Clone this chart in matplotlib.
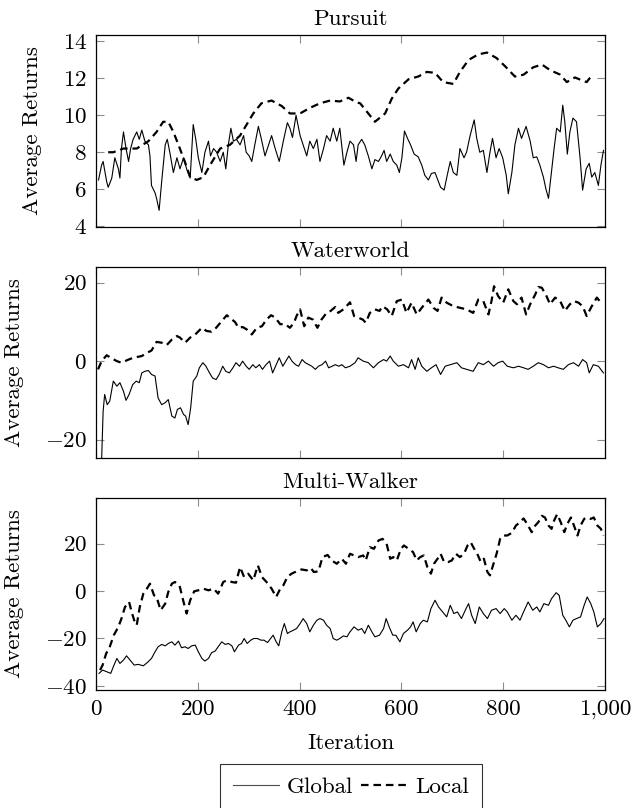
import matplotlib
matplotlib.use("Agg")
import matplotlib.pyplot as plt
from matplotlib.lines import Line2D

plt.rcParams["font.family"] = ["cmr10", "DejaVu Serif"]
plt.rcParams["mathtext.fontset"] = "cm"
plt.rcParams["axes.formatter.use_mathtext"] = True
plt.rcParams["font.size"] = 16.6

# Pursuit
pursuit_global_it = [5, 11, 14, 21, 24, 31, 37, 44, 47, 50, 54, 59, 64, 68, 73, 80, 85, 90, 96, 103,
                     106, 109, 116, 119, 124, 129, 136, 140, 145, 152, 159, 165, 172, 178, 185, 191, 196, 201, 208, 214,
                     221, 225, 231, 237, 244, 250, 255, 260, 265, 270, 276, 283, 290, 295, 301, 306, 312, 319, 325, 332,
                     339, 345, 352, 360, 368, 376, 381, 386, 393, 401, 407, 414, 420, 427, 434, 440, 447, 453, 460, 466,
                     473, 479, 487, 493, 499, 506, 511, 515, 522, 528, 535, 542, 548, 555, 561, 566, 571, 578, 584, 591,
                     596, 601, 606, 612, 618, 625, 633, 640, 646, 653, 659, 666, 673, 677, 684, 690, 696, 702, 709, 715,
                     723, 728, 735, 743, 748, 754, 761, 768, 774, 779, 786, 792, 799, 806, 810, 817, 823, 830, 836, 845,
                     853, 859, 866, 872, 879, 884, 889, 894, 900, 905, 912, 917, 921, 926, 931, 937, 944, 951, 956, 963,
                     969, 974, 980, 987, 992, 997]
pursuit_global = [6.5, 7.3, 7.5, 6.4, 6.1, 6.6, 7.7, 7.1, 6.6, 8.2, 9.1, 8.2, 7.5, 8.2, 8.7, 9.1, 8.7, 9.2, 8.6, 8.4,
                  7.8, 6.2, 5.8, 5.5, 4.85, 6.4, 8.4, 8.7, 8.0, 6.9, 7.7, 7.1, 7.7, 7.1, 6.6, 9.5, 8.7, 7.7, 6.9, 8.0,
                  8.6, 7.8, 8.2, 8.0, 7.5, 8.0, 7.1, 8.4, 9.3, 8.6, 8.7, 8.4, 8.9, 8.0, 7.8, 7.5, 8.4, 9.4, 8.7, 7.8,
                  8.4, 8.9, 8.2, 7.5, 8.6, 9.6, 9.3, 8.8, 10.0, 8.9, 8.4, 7.8, 8.6, 8.2, 8.7, 7.5, 8.2, 8.9, 8.6, 9.3,
                  8.6, 9.3, 7.3, 8.0, 8.6, 8.4, 7.5, 8.4, 8.7, 8.4, 7.8, 7.1, 7.6, 7.5, 7.8, 8.1, 7.5, 7.9, 7.5, 7.3,
                  6.9, 7.7, 9.15, 8.75, 8.4, 7.9, 7.75, 7.3, 6.75, 6.5, 6.85, 6.9, 6.4, 6.1, 5.95, 6.75, 7.5, 6.9, 6.75, 8.2,
                  7.7, 8.0, 8.9, 9.75, 8.75, 8.0, 8.1, 6.9, 8.0, 8.75, 7.7, 8.2, 7.7, 6.75, 5.75, 6.9, 8.4, 9.3, 8.75, 9.4,
                  8.6, 7.7, 7.75, 7.3, 6.65, 6.0, 5.5, 6.75, 8.2, 9.3, 9.1, 10.55, 9.65, 7.9, 9.1, 9.85, 9.65, 7.7, 5.95, 7.1,
                  7.4, 6.65, 6.9, 6.2, 7.3, 8.1]
pursuit_local_it = [24, 34, 54, 80, 103, 119, 132, 142, 152, 162, 175, 185, 198, 211, 224, 244, 263, 283, 296, 309,
                    325, 345, 365, 381, 401, 420, 440, 460, 479, 496, 512, 519, 535, 548, 568, 581, 594, 614, 633, 650,
                    666, 682, 702, 715, 732, 751, 768, 787, 804, 823, 840, 859, 876, 892, 912, 925, 941, 954, 964, 971]
pursuit_local = [8.0, 8.0, 8.2, 8.2, 8.6, 9.1, 9.65, 9.65, 9.1, 8.4, 7.45, 6.65, 6.5, 6.65, 7.3, 8.2, 8.4, 8.9, 9.5, 10.1,
                 10.65, 10.8, 10.5, 10.1, 10.1, 10.4, 10.65, 10.8, 10.75, 10.95, 10.7, 10.65, 10.1, 9.65, 10.1, 10.9, 11.45, 11.95, 12.1, 12.35,
                 12.3, 11.8, 11.7, 12.35, 13.0, 13.3, 13.4, 13.1, 12.65, 12.1, 12.2, 12.6, 12.75, 12.45, 12.2, 11.8, 12.05, 11.9, 11.8, 12.05]

# Waterworld
water_global_it = [3, 8, 14, 17, 22, 27, 34, 41, 47, 54, 59, 65, 72, 79, 85, 90, 96, 103, 109, 116,
                   122, 129, 136, 142, 149, 155, 160, 166, 172, 176, 181, 186, 191, 198, 203, 210, 216, 223, 229, 236,
                   242, 249, 255, 262, 269, 275, 282, 288, 295, 301, 308, 314, 321, 327, 334, 341, 347, 354, 360, 367,
                   373, 379, 385, 392, 398, 405, 411, 418, 424, 431, 437, 444, 451, 457, 464, 470, 477, 483, 490, 499,
                   509, 515, 525, 535, 545, 555, 565, 571, 578, 584, 594, 604, 614, 620, 627, 633, 640, 650, 659, 668,
                   677, 686, 696, 709, 718, 728, 741, 751, 761, 771, 781, 790, 799, 808, 820, 830, 840, 849, 859, 869,
                   879, 889, 899, 908, 918, 928, 938, 948, 956, 964, 969, 977, 987, 997]
water_global = [-45.0, -38.0, -12.8, -8.5, -11.1, -10.2, -5.1, -6.4, -5.5, -7.7, -10.0, -8.5, -6.0, -5.1, -5.5, -3.0, -2.6, -2.4, -3.4, -3.8,
                -9.4, -11.1, -10.6, -9.8, -14.0, -14.5, -12.3, -11.9, -13.6, -14.0, -16.2, -11.9, -5.1, -3.8, -1.7, -0.4, -1.3, -3.0, -4.3, -4.7,
                -3.4, -1.3, -2.6, -3.0, -1.7, -0.4, -1.3, 0.0, -1.3, -2.1, -0.9, -1.7, -0.9, -2.1, -0.9, 0.0, -3.0, -0.9, 0.85, -1.3,
                0.0, 1.3, 0.0, -0.9, -1.3, 0.4, -0.4, -0.9, -1.3, -2.1, -1.3, -0.9, 0.0, -1.7, -1.3, -0.9, -1.3, -0.9, -1.7, -1.3,
                -0.4, 0.85, 0.0, -0.4, -1.7, -0.4, 0.4, 0.0, 1.3, 0.0, -1.3, -0.9, -1.7, 0.4, -2.1, 0.85, -1.3, -2.6, -1.7, -0.9,
                -3.4, -1.3, -0.9, -0.4, -1.7, -2.1, -2.6, -0.4, -0.9, 0.0, -1.3, -0.4, 0.0, -1.3, -1.7, -1.3, -1.7, -2.1, -1.3, -0.4,
                -0.9, -1.7, -1.3, -1.7, -2.1, -0.9, -0.4, -1.3, 0.4, -0.4, -3.0, -0.9, -1.3, -3.0]
water_local_it = [4, 11, 21, 29, 41, 50, 64, 73, 90, 100, 109, 119, 129, 139, 149, 159, 165, 175, 185, 195,
                  208, 217, 227, 236, 247, 257, 267, 273, 280, 288, 296, 306, 316, 326, 335, 344, 352, 362, 371, 381,
                  389, 394, 401, 409, 417, 426, 435, 443, 453, 461, 470, 476, 486, 492, 499, 507, 515, 524, 530, 538,
                  548, 557, 563, 572, 581, 591, 601, 610, 620, 630, 640, 653, 663, 671, 679, 689, 702, 715, 728, 741,
                  751, 761, 771, 777, 782, 790, 800, 810, 820, 827, 836, 845, 853, 863, 869, 876, 885, 892, 902, 912,
                  921, 931, 939, 948, 956, 964, 974, 984, 992]
water_local = [-2.1, 0.0, 1.5, 0.85, 0.0, -0.4, 0.4, 0.85, 1.3, 2.1, 2.7, 4.9, 4.7, 4.1, 5.5, 6.4, 6.0, 4.7, 6.0, 6.8,
               8.5, 7.7, 7.5, 8.5, 10.2, 11.7, 10.6, 10.0, 8.5, 8.7, 8.1, 6.8, 8.5, 8.9, 10.6, 11.7, 11.1, 9.4, 9.5, 8.5,
               9.8, 11.5, 13.2, 8.9, 11.1, 10.6, 8.5, 10.6, 12.3, 12.8, 13.8, 12.3, 13.2, 14.0, 15.0, 11.5, 11.1, 10.6, 9.8, 12.3,
               13.2, 12.8, 14.0, 13.2, 11.5, 15.3, 15.7, 12.3, 14.9, 11.9, 13.6, 15.7, 13.6, 12.8, 16.2, 14.9, 14.0, 13.6, 13.2, 12.3,
               15.7, 15.3, 11.9, 15.3, 19.1, 16.6, 14.9, 18.3, 15.3, 14.5, 16.2, 11.9, 14.5, 17.0, 18.9, 18.7, 16.6, 14.5, 16.2, 15.3,
               12.8, 14.5, 15.3, 14.9, 14.0, 11.5, 14.0, 16.2, 14.9]

# Multi-Walker
walker_global_it = [6, 13, 21, 29, 34, 41, 47, 54, 60, 67, 75, 83, 93, 101, 109, 116, 122, 129, 136, 142,
                    149, 155, 162, 168, 175, 181, 188, 195, 201, 208, 214, 221, 227, 234, 240, 247, 254, 260, 267, 272,
                    280, 286, 291, 297, 304, 310, 317, 324, 330, 337, 343, 348, 354, 359, 365, 370, 376, 381, 388, 394,
                    401, 407, 414, 420, 427, 434, 440, 447, 453, 460, 466, 473, 479, 486, 493, 499, 507, 515, 522, 528,
                    535, 542, 548, 557, 565, 570, 576, 583, 589, 597, 604, 612, 618, 623, 629, 637, 643, 651, 658, 666,
                    673, 681, 689, 696, 703, 710, 718, 727, 732, 738, 745, 753, 761, 769, 777, 786, 794, 802, 808, 817,
                    825, 833, 840, 849, 858, 866, 872, 880, 889, 895, 904, 910, 917, 923, 930, 937, 944, 952, 959, 965,
                    972, 978, 985, 992, 998]
walker_global = [-34.7, -33.3, -34.0, -34.7, -31.9, -28.4, -30.5, -29.1, -27.3, -29.1, -31.2, -30.9, -31.5, -30.1, -28.4, -25.6, -23.5, -22.5, -23.1, -22.1,
                 -21.4, -22.8, -21.1, -23.9, -23.5, -24.2, -23.1, -22.8, -25.6, -28.4, -29.5, -28.4, -26.0, -25.3, -23.5, -21.4, -22.5, -22.1, -23.1, -25.6,
                 -22.8, -22.1, -20.0, -22.1, -20.7, -20.0, -20.0, -20.7, -20.7, -21.7, -20.0, -18.6, -21.4, -23.1, -17.2, -13.7, -17.9, -17.2, -16.5, -15.8,
                 -13.7, -11.6, -13.7, -17.2, -14.4, -12.3, -11.6, -12.3, -14.4, -15.8, -20.0, -20.7, -20.0, -18.9, -19.3, -17.2, -15.1, -16.5, -15.8, -17.9,
                 -14.4, -17.2, -19.3, -18.6, -15.8, -11.6, -15.1, -18.6, -18.6, -21.4, -17.9, -16.5, -15.1, -13.0, -17.2, -13.7, -12.3, -13.0, -7.4, -3.9,
                 -6.7, -8.8, -10.9, -6.0, -9.5, -8.8, -11.6, -7.4, -5.3, -10.2, -13.7, -6.7, -9.5, -11.6, -8.1, -7.4, -9.5, -7.4, -8.8, -12.3,
                 -10.2, -12.3, -8.8, -4.6, -8.1, -6.7, -8.8, -5.3, -6.0, -3.2, -0.7, -1.8, -10.2, -12.3, -15.1, -12.3, -11.6, -10.9, -6.0, -2.5,
                 -5.3, -8.8, -15.1, -13.7, -11.6]
walker_local_it = [8, 13, 20, 27, 35, 44, 50, 57, 65, 70, 75, 80, 86, 93, 100, 106, 114, 119, 127, 136,
                   142, 149, 155, 164, 172, 178, 185, 193, 201, 211, 221, 231, 240, 250, 257, 267, 275, 283, 291, 299,
                   309, 318, 326, 335, 345, 354, 362, 368, 376, 384, 394, 404, 414, 422, 428, 437, 445, 455, 463, 473,
                   483, 491, 499, 507, 515, 525, 530, 538, 546, 555, 563, 571, 578, 584, 591, 599, 605, 614, 623, 630,
                   637, 644, 651, 658, 664, 671, 677, 684, 692, 699, 707, 715, 723, 730, 736, 743, 749, 756, 762, 769,
                   774, 781, 787, 794, 800, 808, 817, 825, 833, 840, 847, 856, 863, 869, 876, 882, 889, 895, 900, 906,
                   913, 920, 926, 933, 939, 946, 952, 959, 965, 972, 978, 985, 992, 997]
walker_local = [-33.3, -31.2, -26.3, -23.5, -18.6, -15.1, -11.6, -6.7, -4.6, -8.8, -12.3, -14.4, -6.7, -1.1, 1.0, 3.1, -1.8, -2.5, -8.1, -5.3,
                -0.4, 3.1, 3.8, 2.4, -4.6, -9.5, -3.9, -0.1, 0.3, 1.0, 0.3, 1.0, -1.1, 3.8, 4.5, 3.8, 3.5, 10.1, 5.9, 7.3,
                4.5, 10.8, 5.9, 3.8, 1.0, -2.5, 1.0, 2.4, 5.9, 7.3, 8.3, 9.1, 8.7, 9.7, 8.0, 8.3, 14.3, 15.2, 12.9, 11.5,
                13.6, 11.5, 15.7, 15.0, 14.3, 15.0, 12.9, 18.5, 17.8, 21.3, 22.0, 19.9, 13.6, 14.3, 12.9, 17.8, 19.2, 17.8, 16.4, 12.9,
                14.3, 15.0, 10.1, 7.3, 11.5, 13.6, 15.7, 12.2, 12.2, 12.9, 15.7, 14.3, 15.7, 19.2, 20.6, 17.8, 15.7, 12.2, 13.6, 8.0,
                6.6, 11.5, 15.7, 22.0, 23.4, 23.4, 24.5, 27.6, 29.0, 30.6, 28.3, 24.8, 27.6, 29.0, 31.7, 31.0, 27.6, 26.2, 29.7, 32.4,
                29.0, 24.8, 28.3, 31.0, 27.6, 23.4, 27.6, 30.4, 31.0, 30.4, 31.0, 27.6, 26.2, 23.4]

titles = ["Pursuit", "Waterworld", "Multi-Walker"]
ylims = [(3.95, 14.35), (-24.7, 24.0), (-41.7, 39.2)]
yticks = [[4, 6, 8, 10, 12, 14], [-20, 0, 20], [-40, -20, 0, 20]]
xticks = [0, 200, 400, 600, 800, 1000]
xticklabels = ["0", "200", "400", "600", "800", "1,000"]

series = [
    (pursuit_global_it, pursuit_global, pursuit_local_it, pursuit_local),
    (water_global_it, water_global, water_local_it, water_local),
    (walker_global_it, walker_global, walker_local_it, walker_local),
]

W, H = 633, 808
fig = plt.figure(figsize=(W / 100, H / 100), dpi=100)
boxes = [(35, 227), (267, 458), (498, 690)]
dash = (3.4, 2.2)

for i, (top, bot) in enumerate(boxes):
    ax = fig.add_axes([96 / W, 1 - bot / H, 509 / W, (bot - top) / H])
    g_it, g, l_it, l = series[i]
    ax.plot(g_it, g, color="black", lw=0.8)
    ax.plot(l_it, l, color="black", lw=1.6, dashes=dash)
    ax.set_xlim(0, 1000)
    ax.set_ylim(*ylims[i])
    ax.set_yticks(yticks[i])
    ax.set_xticks(xticks)
    if i == 2:
        ax.set_xticklabels(xticklabels)
        ax.set_xlabel("Iteration", labelpad=11)
    else:
        ax.set_xticklabels([])
    ax.set_title(titles[i], fontsize=16.6, pad=7.3)
    ax.set_ylabel("Average Returns", labelpad=15)
    ax.tick_params(direction="in", top=True, right=True, length=6, width=0.8,
                   color="0.55", pad=6.5)
    for s in ax.spines.values():
        s.set_linewidth(0.9)

handles = [Line2D([], [], color="0.3", lw=0.8),
           Line2D([], [], color="black", lw=1.6, dashes=dash)]
leg = fig.legend(handles, ["Global", "Local"], loc="center", ncol=2,
                 bbox_to_anchor=(351 / W, 1 - 786.5 / H), fancybox=False,
                 edgecolor="black", handlelength=2.0, columnspacing=0.35,
                 handletextpad=0.35, borderpad=0.55)
leg.get_frame().set_linewidth(0.8)

fig.savefig("out.png", dpi=100)
